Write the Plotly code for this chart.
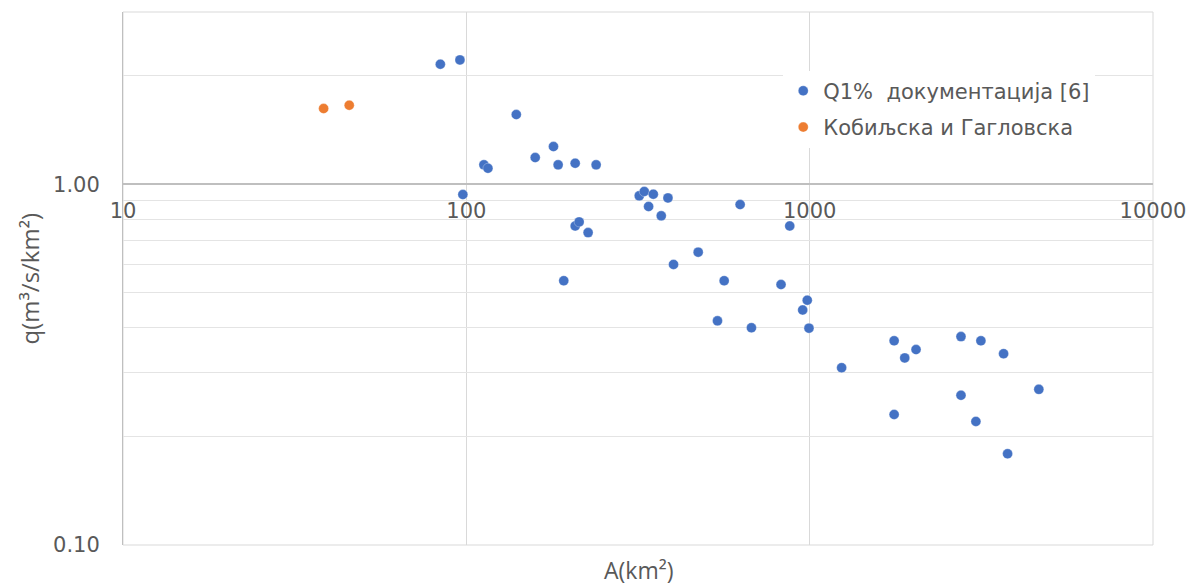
import math
import plotly.graph_objects as go

# Series: Q1% документација [6]
area_doc = [84.0, 95.8, 139.8, 179.4, 158.7, 112.5, 115.6, 185.1, 207.5, 238.8,
            97.7, 318.9, 329.8, 350.4, 386.6, 339.5, 627.3, 369.6, 207.5, 213.1,
            226.3, 874.9, 473.5, 401.3, 192.2, 563.6, 825.2, 984.0, 954.3, 995.4,
            1239, 1762, 2041, 1892, 2759, 3153, 3671, 4650, 2759, 1762,
            3049, 3771, 538.9, 676.7]
q_doc = [2.15, 2.21, 1.559, 1.271, 1.185, 1.131, 1.107, 1.131, 1.143, 1.131,
         0.936, 0.928, 0.954, 0.938, 0.916, 0.867, 0.878, 0.817, 0.766, 0.786,
         0.734, 0.766, 0.648, 0.599, 0.540, 0.540, 0.527, 0.477, 0.448, 0.399,
         0.310, 0.368, 0.348, 0.330, 0.378, 0.368, 0.339, 0.270, 0.260, 0.230,
         0.220, 0.179, 0.418, 0.400]

# Series: Кобиљска и Гагловска
area_kg = [38.4, 45.6]
q_kg = [1.620, 1.655]

names = ["Q1%  документација [6]", "Кобиљска и Гагловска"]

x_ticks = [10, 100, 1000, 10000]
x_ticktext = ["10", "100", "1000", "10000"]
y_ticks = [0.1, 0.2, 0.3, 0.4, 0.5, 0.6, 0.7, 0.8, 0.9, 1, 2, 3]
y_ticktext = ["0.10", "", "", "", "", "", "", "", "", "1.00", "", ""]

BLUE = "#4472C4"
ORANGE = "#ED7D31"
TXT = "#595959"
GRID = "#E4E4E4"

fig = go.Figure()
fig.add_trace(go.Scatter(x=area_doc, y=q_doc, mode="markers", name=names[0],
                         legendgroup="a",
                         marker=dict(color=BLUE, size=10, line=dict(color="rgba(255,255,255,0.6)", width=0.5))))
fig.add_trace(go.Scatter(x=area_kg, y=q_kg, mode="markers", name=names[1],
                         legendgroup="b",
                         marker=dict(color=ORANGE, size=10, line=dict(color="rgba(255,255,255,0.6)", width=0.5))))

y_lo, y_hi = -1, math.log10(3)
x_axis_pos = (0 - y_lo) / (y_hi - y_lo)

fig.update_layout(
    width=1191, height=587,
    margin=dict(l=123, r=38, t=12, b=42, autoexpand=False),
    paper_bgcolor="white", plot_bgcolor="white",
    font=dict(family="DejaVu Sans", size=20, color=TXT),
    showlegend=True,
    legend=dict(x=0.641, y=0.89, xanchor="left", yanchor="top",
                bgcolor="white", borderwidth=0, tracegroupgap=6,
                font=dict(family="DejaVu Sans", size=21, color=TXT)),
    xaxis=dict(type="log", range=[1, 4], tickvals=x_ticks, ticktext=x_ticktext,
               showgrid=True, gridcolor="#D9D9D9", gridwidth=1, automargin=False,
               zeroline=False, showline=True, linecolor="#BFBFBF", linewidth=2,
               anchor="free", position=x_axis_pos,
               ticks="outside", ticklen=8, tickcolor="rgba(0,0,0,0)",
               tickfont=dict(family="DejaVu Sans", size=21, color=TXT)),
    yaxis=dict(type="log", range=[y_lo, y_hi], tickvals=y_ticks, ticktext=y_ticktext,
               showgrid=True, gridcolor=GRID, gridwidth=1, automargin=False,
               zeroline=False, showline=True, linecolor="#BFBFBF", linewidth=1,
               ticks="outside", ticklen=18, tickcolor="rgba(0,0,0,0)",
               tickfont=dict(family="DejaVu Sans", size=21, color=TXT)),
    shapes=[dict(type="rect", xref="x domain", yref="y domain", x0=0, x1=1, y0=0, y1=1,
                 line=dict(color="#D9D9D9", width=1), layer="below")],
    annotations=[
        dict(text="A(km²)", xref="paper", yref="paper", x=0.5, y=-0.046,
             xanchor="center", yanchor="middle", showarrow=False,
             font=dict(family="Open Sans", size=23, color=TXT)),
        dict(text="q(m³/s/km²)", xref="paper", yref="paper", x=-0.0903, y=0.5,
             xanchor="center", yanchor="middle", showarrow=False, textangle=-90,
             font=dict(family="Open Sans", size=24, color=TXT)),
    ],
)

fig.write_html("out.html")
